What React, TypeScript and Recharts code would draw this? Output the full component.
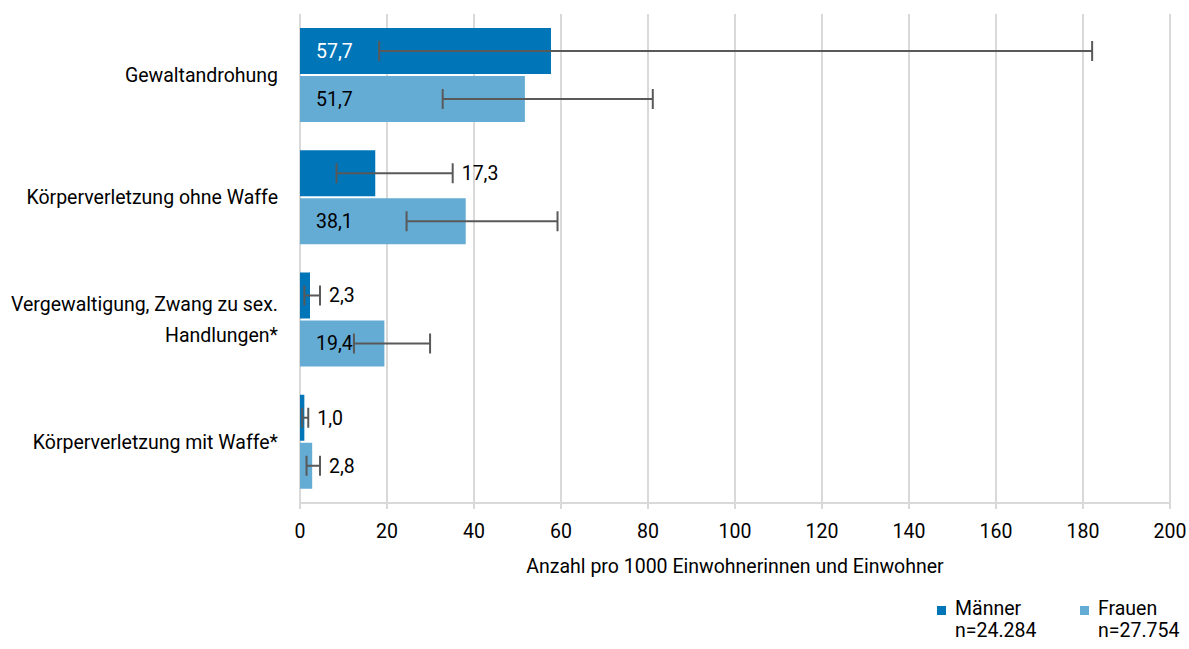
import { BarChart, Bar, XAxis, YAxis, CartesianGrid, ErrorBar, LabelList } from "recharts";

const categories = [
  "Gewaltandrohung",
  "Körperverletzung ohne Waffe",
  "Vergewaltigung, Zwang zu sex. Handlungen*",
  "Körperverletzung mit Waffe*",
];
const maenner = [57.7, 17.3, 2.3, 1.0];
const maennerLow = [18.2, 8.4, 1.0, 0.5];
const maennerHigh = [182.1, 35.1, 4.6, 1.9];
const frauen = [51.7, 38.1, 19.4, 2.8];
const frauenLow = [32.8, 24.5, 12.4, 1.5];
const frauenHigh = [81.1, 59.2, 29.9, 4.6];
const xTicks = [0, 20, 40, 60, 80, 100, 120, 140, 160, 180, 200];
const seriesNames = ["Männer", "Frauen"];
const sampleSizes = ["n=24.284", "n=27.754"];
const axisTitle = "Anzahl pro 1000 Einwohnerinnen und Einwohner";

const colors = ["#0075b7", "#65acd5"];
const font = "Roboto, 'Open Sans', sans-serif";
const fs = 19.5;

const data = categories.map((name, i) => ({
  name,
  m: maenner[i],
  f: frauen[i],
  mErr: [maenner[i] - maennerLow[i], maennerHigh[i] - maenner[i]],
  fErr: [frauen[i] - frauenLow[i], frauenHigh[i] - frauen[i]],
}));

const fmt = (v: number) => v.toFixed(1).replace(".", ",");

// simple word wrap for the long category names
const wrap = (s: string, max: number) => {
  const words = s.split(" ");
  const lines: string[] = [];
  let cur = "";
  words.forEach((w) => {
    const next = cur ? cur + " " + w : w;
    if (next.length > max && cur) {
      lines.push(cur);
      cur = w;
    } else cur = next;
  });
  if (cur) lines.push(cur);
  return lines;
};

const CategoryTick = (props: any) => {
  const { x, y, payload } = props;
  const lines = wrap(payload.value, 30);
  const lh = 31;
  const start = (-(lines.length - 1) * lh) / 2;
  return (
    <text x={x} y={y} textAnchor="end" fontSize={fs} fill="#000" fontFamily={font}>
      {lines.map((l, i) => (
        <tspan key={i} x={x} y={y + start + i * lh} dy="0.35em">
          {l}
        </tspan>
      ))}
    </text>
  );
};

// value inside the bar when it is wide enough, otherwise right of the error bar
const makeLabel = (values: number[], highs: number[], insideColor: string) => (props: any) => {
  const { x, y, width, height, value } = props;
  const idx = props.index ?? values.indexOf(value);
  const v = values[idx];
  const inside = width >= 80;
  const tx = inside ? x + 16 : x + (width * highs[idx]) / v + 9;
  return (
    <text
      x={tx}
      y={y + height / 2}
      dy="0.35em"
      fontSize={fs}
      fontFamily={font}
      fill={inside ? insideColor : "#000"}
    >
      {fmt(v)}
    </text>
  );
};

export default function App() {
  return (
    <div style={{ position: "relative", width: 1189, height: 649, fontFamily: font }}>
      <style>{"html { overflow: hidden; } body { margin: 0; }"}</style>
      <BarChart
        width={1189}
        height={649}
        data={data}
        layout="vertical"
        margin={{ top: 14, right: 19, left: 8, bottom: 66 }}
        barSize={46}
        barGap={2}
      >
        <CartesianGrid horizontal={false} stroke="#d9d9d9" strokeWidth={2} />
        <XAxis
          type="number"
          domain={[0, 200]}
          ticks={xTicks}
          height={80}
          stroke="#d9d9d9"
          strokeWidth={2}
          tickSize={6}
          tickMargin={15}
          tick={{ fill: "#000", fontSize: fs, fontFamily: font }}
          label={{ value: axisTitle, position: "insideBottom", offset: 10, fill: "#000", fontSize: fs, fontFamily: font }}
        />
        <YAxis
          type="category"
          dataKey="name"
          width={292}
          axisLine={false}
          tickLine={false}
          tickSize={8}
          tickMargin={14}
          tick={<CategoryTick />}
        />
        <Bar dataKey="m" name={seriesNames[0]} fill={colors[0]} isAnimationActive={false}>
          <ErrorBar dataKey="mErr" direction="x" width={10} stroke="#595959" strokeWidth={2} />
          <LabelList dataKey="m" content={makeLabel(maenner, maennerHigh, "#fff")} />
        </Bar>
        <Bar dataKey="f" name={seriesNames[1]} fill={colors[1]} isAnimationActive={false}>
          <ErrorBar dataKey="fErr" direction="x" width={10} stroke="#595959" strokeWidth={2} />
          <LabelList dataKey="f" content={makeLabel(frauen, frauenHigh, "#000")} />
        </Bar>
      </BarChart>
      {seriesNames.map((name, i) => (
        <div
          key={name}
          style={{ position: "absolute", left: 937 + i * 143, top: 598, display: "flex" }}
        >
          <div style={{ width: 9, height: 9, background: colors[i], marginTop: 8, marginRight: 9 }} />
          <div style={{ fontSize: fs, lineHeight: "22px", color: "#000" }}>
            {name}
            <br />
            {sampleSizes[i]}
          </div>
        </div>
      ))}
    </div>
  );
}
